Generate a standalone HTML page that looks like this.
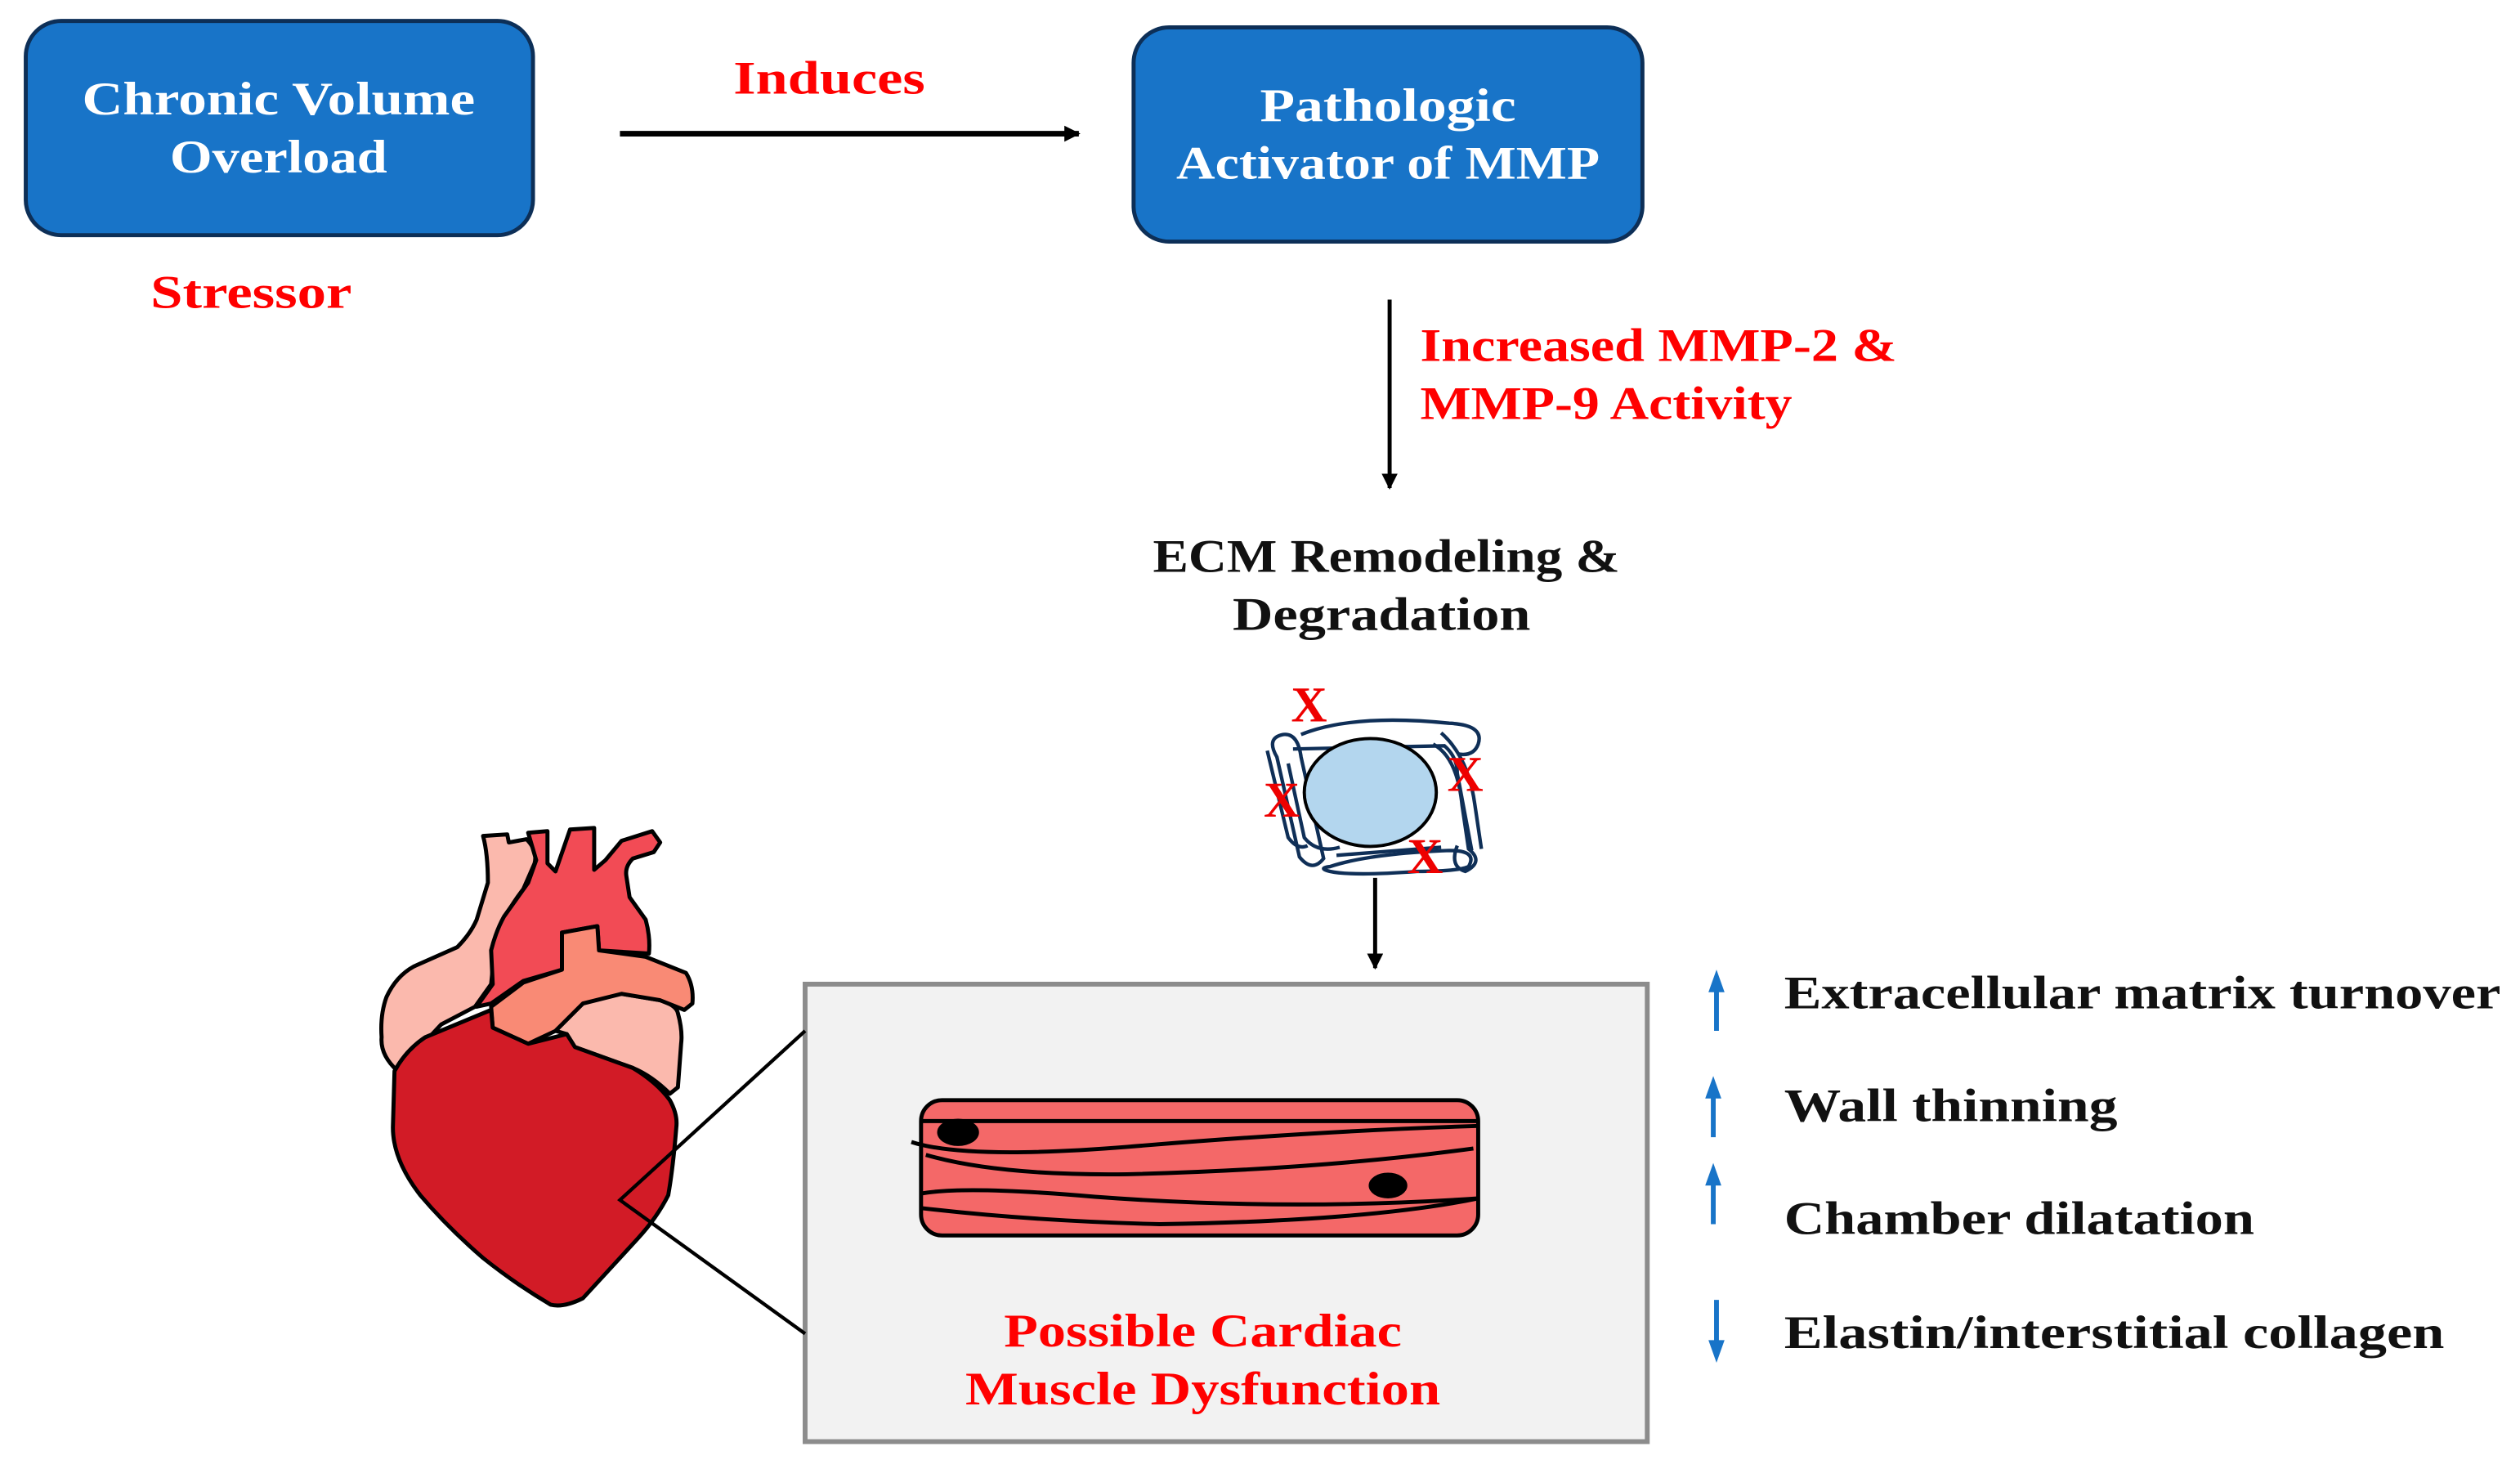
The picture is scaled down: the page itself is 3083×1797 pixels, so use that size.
<!DOCTYPE html>
<html><head><meta charset="utf-8"><style>
html,body{margin:0;padding:0;background:#fff}
svg{display:block}
text{font-family:"Liberation Serif",serif;font-weight:bold}
</style></head><body>
<svg width="3083" height="1797" viewBox="0 0 1565 912" preserveAspectRatio="none" xmlns="http://www.w3.org/2000/svg">
<defs>
<marker id="ah" markerWidth="10" markerHeight="10" refX="9" refY="5" orient="auto" markerUnits="userSpaceOnUse">
<path d="M0,0 L10,5 L0,10 z" fill="#000"/></marker>
</defs>

<!-- Box 1 -->
<rect x="16" y="13" width="315" height="133" rx="22" fill="#1874C8" stroke="#0d2f57" stroke-width="2.5"/>
<text x="173" y="71" font-size="29" fill="#fff" text-anchor="middle" textLength="244" lengthAdjust="spacingAndGlyphs">Chronic Volume</text>
<text x="173" y="107" font-size="29" fill="#fff" text-anchor="middle" textLength="135" lengthAdjust="spacingAndGlyphs">Overload</text>
<text x="156" y="191" font-size="29" fill="#f00" text-anchor="middle" textLength="125" lengthAdjust="spacingAndGlyphs">Stressor</text>

<text x="515" y="58" font-size="29" fill="#f00" text-anchor="middle" textLength="119" lengthAdjust="spacingAndGlyphs">Induces</text>
<line x1="385" y1="83" x2="670" y2="83" stroke="#000" stroke-width="3.5" marker-end="url(#ah)"/>

<!-- Box 2 -->
<rect x="704" y="17" width="316" height="133" rx="22" fill="#1874C8" stroke="#0d2f57" stroke-width="2.5"/>
<text x="862" y="75" font-size="29" fill="#fff" text-anchor="middle" textLength="159" lengthAdjust="spacingAndGlyphs">Pathologic</text>
<text x="862" y="111" font-size="29" fill="#fff" text-anchor="middle" textLength="263" lengthAdjust="spacingAndGlyphs">Activator of MMP</text>

<line x1="863" y1="186" x2="863" y2="303" stroke="#000" stroke-width="2.5" marker-end="url(#ah)"/>
<text x="882" y="224" font-size="29" fill="#f00" textLength="296" lengthAdjust="spacingAndGlyphs">Increased MMP-2 &amp;</text>
<text x="882" y="260" font-size="29" fill="#f00" textLength="231" lengthAdjust="spacingAndGlyphs">MMP-9 Activity</text>

<text x="861" y="355" font-size="29" fill="#111" text-anchor="middle" textLength="290" lengthAdjust="spacingAndGlyphs">ECM Remodeling &amp;</text>
<text x="858" y="391" font-size="29" fill="#111" text-anchor="middle" textLength="185" lengthAdjust="spacingAndGlyphs">Degradation</text>

<!-- ECM icon -->
<g fill="none" stroke="#0f2f57" stroke-width="2.2">
<path d="M808,456 Q840,443 900,449 Q922,450 918,462 Q915,470 905,468"/>
<path d="M793,470 Q786,458 797,456 Q806,455 808,470 L822,533 Q815,542 807,532 Z"/>
<path d="M803,465 L897,463 Q905,470 905,480 L914,528"/>
<path d="M800,474 L810,520 Q818,530 832,526"/>
<path d="M787,466 L800,520 Q806,528 812,525"/>
<path d="M890,462 Q905,470 908,500 L912,527 Q922,535 910,541 Q900,538 905,525"/>
<path d="M826,538 Q850,530 900,528 Q918,528 912,538 Q905,541 880,541 Q840,544 826,541 Q818,539 826,538 Z"/>
<path d="M895,455 Q912,470 916,500 L920,527"/>
<path d="M830,531 L895,526"/>
</g>
<ellipse cx="851" cy="492" rx="41" ry="33.5" fill="#b3d6ee" stroke="#000" stroke-width="2"/>
<g font-size="31" fill="#e00" text-anchor="middle">
<text x="813" y="448">X</text>
<text x="910" y="491">X</text>
<text x="796" y="507">X</text>
<text x="885" y="542">X</text>
</g>

<line x1="854" y1="545" x2="854" y2="601" stroke="#000" stroke-width="2.5" marker-end="url(#ah)"/>

<!-- Gray box -->
<rect x="500" y="611" width="523" height="284" fill="#f2f2f2" stroke="#8c8c8c" stroke-width="3"/>

<!-- Muscle -->
<rect x="572" y="683" width="346" height="84" rx="13" fill="#f46868" stroke="#000" stroke-width="2.5"/>
<g fill="none" stroke="#000" stroke-width="2.5">
<path d="M572,696 L918,696"/>
<path d="M566,709 Q600,720 700,712 Q820,702 918,699"/>
<path d="M575,717 Q620,730 700,729 Q820,726 915,713"/>
<path d="M572,741 Q600,736 680,743 Q800,752 918,744"/>
<path d="M572,750 Q640,758 720,760 Q850,758 918,744"/>
</g>
<ellipse cx="595" cy="703" rx="13" ry="8.5" fill="#000"/>
<ellipse cx="862" cy="736" rx="12" ry="8" fill="#000"/>

<text x="747" y="836" font-size="29" fill="#f00" text-anchor="middle" textLength="247" lengthAdjust="spacingAndGlyphs">Possible Cardiac</text>
<text x="747" y="872" font-size="29" fill="#f00" text-anchor="middle" textLength="295" lengthAdjust="spacingAndGlyphs">Muscle Dysfunction</text>

<!-- Heart -->
<g stroke="#000" stroke-width="2.5" stroke-linejoin="round">
<path fill="#fbb9ad" d="M247,665 Q236,655 237,644 Q236,630 240,619 Q246,606 257,600 L284,588 Q292,580 296,571 L303,548 Q303,530 300,519 L315,518 L316,523 L327,521 Q334,528 332,536 L325,552 Q314,566 308,582 L305,611 L295,625 L274,636 Z"/>
<path fill="#fbb9ad" d="M345,640 L362,623 Q374,617 386,617 L410,621 Q420,624 421,629 Q424,640 423,648 L421,675 L416,679 Q405,668 393,663 L357,650 L352,642 Z"/>
<path fill="#f24b55" d="M296,625 L306,611 L305,590 Q308,578 313,569 L328,548 L333,534 L328,517 L340,516 L340,536 L345,541 L354,515 L369,514 L369,540 L376,534 L386,522 L405,516 L410,523 L406,529 L393,533 Q388,538 389,544 L391,557 L401,571 Q404,582 403,592 L372,590 L371,575 L349,579 L349,602 L325,609 L305,623 Z"/>
<path fill="#f98a75" d="M305,625 L325,610 L349,602 L349,579 L371,575 L372,590 L401,594 L426,604 Q431,612 430,623 L425,627 L410,621 L386,617 L362,623 L345,640 L328,648 L306,638 Z"/>
<path fill="#d21b26" d="M245,665 Q252,652 264,644 L305,627 L306,638 L328,648 L352,642 L357,650 L393,663 Q408,672 416,683 Q421,692 420,700 Q418,725 415,742 Q408,756 396,769 L362,806 Q350,812 342,810 Q320,797 300,781 Q278,762 261,742 Q244,720 244,700 Z"/>
</g>
<polyline points="500,640 385,745 500,828" fill="none" stroke="#000" stroke-width="2.2"/>

<!-- Right list -->
<g stroke="#1874C8" stroke-width="3">
<line x1="1066" y1="640" x2="1066" y2="612"/>
<line x1="1064" y1="706" x2="1064" y2="678"/>
<line x1="1064" y1="760" x2="1064" y2="732"/>
<line x1="1066" y1="807" x2="1066" y2="836"/>
</g>
<g fill="#1874C8">
<polygon points="1061,616 1066,602 1071,616"/>
<polygon points="1059,682 1064,668 1069,682"/>
<polygon points="1059,736 1064,722 1069,736"/>
<polygon points="1061,832 1066,846 1071,832"/>
</g>
<g font-size="29" fill="#111">
<text x="1108" y="626" textLength="445" lengthAdjust="spacingAndGlyphs">Extracellular matrix turnover</text>
<text x="1108" y="696" textLength="207" lengthAdjust="spacingAndGlyphs">Wall thinning</text>
<text x="1108" y="766" textLength="292" lengthAdjust="spacingAndGlyphs">Chamber dilatation</text>
<text x="1108" y="837" textLength="410" lengthAdjust="spacingAndGlyphs">Elastin/interstitial collagen</text>
</g>
</svg>
</body></html>
